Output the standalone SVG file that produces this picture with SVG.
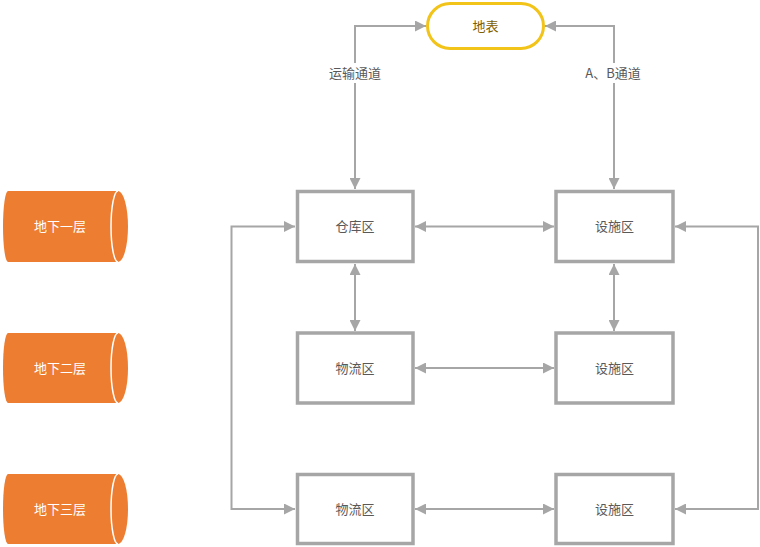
<svg xmlns="http://www.w3.org/2000/svg" width="760" height="547" viewBox="0 0 760 547">
<style>
.box{fill:#fff;stroke:#a6a6a6;stroke-width:3.5}
.t{font-family:"Noto Sans CJK SC","Liberation Sans",sans-serif;font-size:13px;text-anchor:middle;dominant-baseline:central}
.bt{fill:#595959}
.ct{fill:#fff}
.cyl{fill:#ed7d31}
.cl{fill:none;stroke:#fff;stroke-width:1.5}
.ln{fill:none;stroke:#a6a6a6;stroke-width:2}
.lb{fill:#595959}
</style>
<defs>
<marker id="ah" viewBox="0 0 10 10" refX="10" refY="5" markerWidth="11" markerHeight="11" markerUnits="userSpaceOnUse" orient="auto-start-reverse">
<path d="M0,0 L10,5 L0,10 Z" fill="#a6a6a6"/>
</marker>
</defs>
<rect width="760" height="547" fill="#fff"/>
<g id="connectors">
<path class="ln" d="M355,189 V26 H426" marker-start="url(#ah)" marker-end="url(#ah)"/>
<path class="ln" d="M614,189 V26 H545" marker-start="url(#ah)" marker-end="url(#ah)"/>
<path class="ln" d="M415,226.5 H554" marker-start="url(#ah)" marker-end="url(#ah)"/>
<path class="ln" d="M355,264 V331" marker-start="url(#ah)" marker-end="url(#ah)"/>
<path class="ln" d="M614,264 V331" marker-start="url(#ah)" marker-end="url(#ah)"/>
<path class="ln" d="M415,368 H554" marker-start="url(#ah)" marker-end="url(#ah)"/>
<path class="ln" d="M415,509 H554" marker-start="url(#ah)" marker-end="url(#ah)"/>
<path class="ln" d="M295,509 H231.5 V226.5 H295" marker-start="url(#ah)" marker-end="url(#ah)"/>
<path class="ln" d="M675,226.5 H758 V509 H675" marker-start="url(#ah)" marker-end="url(#ah)"/>
<rect x="326" y="63" width="58" height="20" fill="#fff"/>
<rect x="583" y="63" width="62" height="20" fill="#fff"/>
<text class="t lb" x="355" y="72">运输通道</text>
<text class="t lb" x="613" y="72">A、B通道</text>
</g>
<g id="ground">
<rect x="427.5" y="3.5" width="116" height="45" rx="22.5" fill="#fff" stroke="#f2c318" stroke-width="3"/>
<text class="t" x="485.5" y="25" fill="#7f6000">地表</text>
</g>
<g id="cangku">
<rect class="box" x="297.5" y="191.5" width="115.5" height="70"/>
<text class="t bt" x="355" y="225.5">仓库区</text>
</g>
<g id="sheshi1">
<rect class="box" x="556" y="191.5" width="117" height="70"/>
<text class="t bt" x="614.5" y="225.5">设施区</text>
</g>
<g id="wuliu2">
<rect class="box" x="297.5" y="333" width="115.5" height="70"/>
<text class="t bt" x="355" y="367">物流区</text>
</g>
<g id="sheshi2">
<rect class="box" x="556" y="333" width="117" height="70"/>
<text class="t bt" x="614.5" y="367">设施区</text>
</g>
<g id="wuliu3">
<rect class="box" x="297.5" y="474.5" width="115.5" height="69"/>
<text class="t bt" x="355" y="508">物流区</text>
</g>
<g id="sheshi3">
<rect class="box" x="556" y="474.5" width="117" height="69"/>
<text class="t bt" x="614.5" y="508">设施区</text>
</g>
<g id="b1">
<path class="cyl" d="M8,191 H118 A10,35.5 0 0 1 118,262 H8 A5,35.5 0 0 1 8,191 Z"/>
<path class="cl" d="M118,191 A7,35.5 0 0 0 118,262"/>
<text class="t ct" x="60" y="225.5">地下一层</text>
</g>
<g id="b2">
<path class="cyl" d="M8,333 H118 A10,35 0 0 1 118,403 H8 A5,35 0 0 1 8,333 Z"/>
<path class="cl" d="M118,333 A7,35 0 0 0 118,403"/>
<text class="t ct" x="60" y="367">地下二层</text>
</g>
<g id="b3">
<path class="cyl" d="M8,474 H118 A10,35 0 0 1 118,544 H8 A5,35 0 0 1 8,474 Z"/>
<path class="cl" d="M118,474 A7,35 0 0 0 118,544"/>
<text class="t ct" x="60" y="508">地下三层</text>
</g>
</svg>
